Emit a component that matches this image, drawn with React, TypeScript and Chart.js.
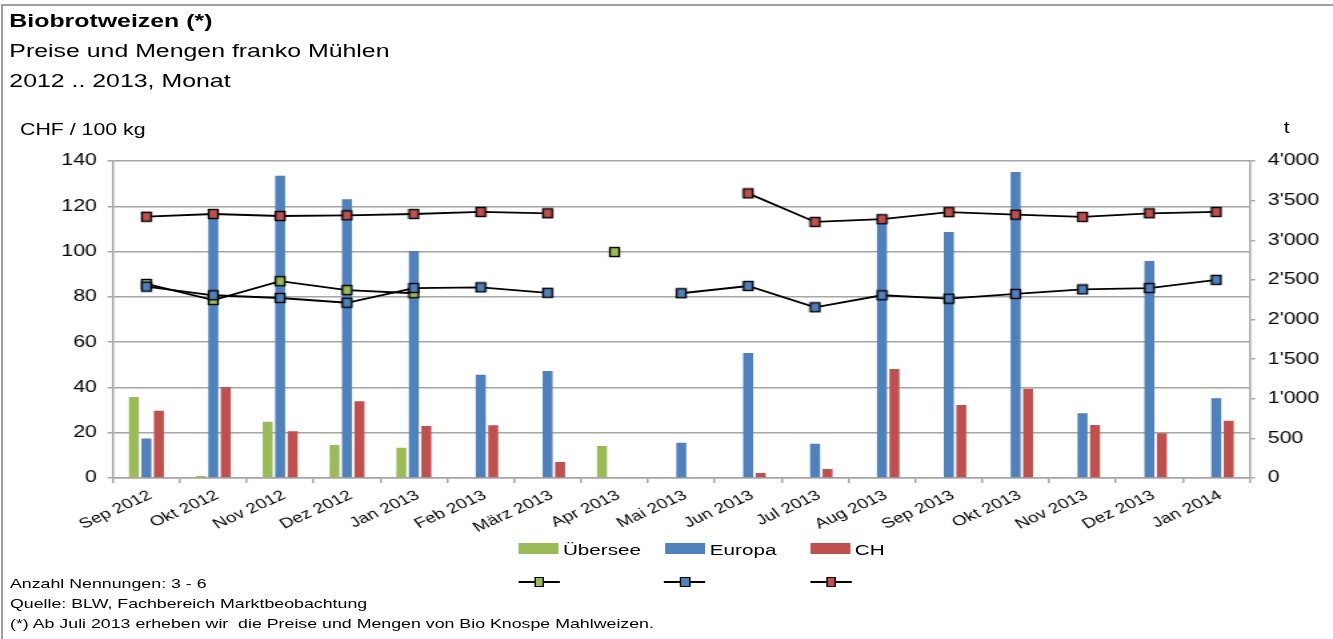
import React, { useEffect, useRef } from "react";
import { Chart, registerables } from "chart.js";

Chart.register(...registerables);

const months = [
  "Sep 2012", "Okt 2012", "Nov 2012", "Dez 2012", "Jan 2013", "Feb 2013",
  "März 2013", "Apr 2013", "Mai 2013", "Jun 2013", "Jul 2013", "Aug 2013",
  "Sep 2013", "Okt 2013", "Nov 2013", "Dez 2013", "Jan 2014",
];

// Mengen in t (rechte Achse)
const mengeUebersee = [1022, 25, 711, 417, 383, null, null, 403, null, null, null, null, null, null, null, null, null];
const mengeEuropa = [500, 3280, 3815, 3517, 2865, 1304, 1350, null, 446, 1577, 433, 3257, 3105, 3862, 817, 2738, 1006];
const mengeCH = [849, 1148, 589, 968, 657, 665, 202, null, null, 63, 114, 1375, 920, 1127, 669, 564, 723];

// Preise in CHF / 100 kg (linke Achse)
const preisUebersee = [85.7, 78.6, 86.9, 83.0, 81.6, null, null, 99.8, null, null, null, null, null, null, null, null, null];
const preisEuropa = [84.5, 80.7, 79.5, 77.4, 83.9, 84.2, 81.8, null, 81.6, 84.8, 75.4, 80.7, 79.2, 81.3, 83.3, 83.9, 87.5];
const preisCH = [115.4, 116.6, 115.7, 116.0, 116.6, 117.5, 116.9, null, null, 125.7, 113.1, 114.3, 117.4, 116.3, 115.3, 116.9, 117.5];

const leftTicks = [0, 20, 40, 60, 80, 100, 120, 140];
const rightTicks = [0, 500, 1000, 1500, 2000, 2500, 3000, 3500, 4000];

const GREEN = "#9BBB59";
const BLUE = "#4F81BD";
const RED = "#C0504D";
const GRID = "#a6a6a6";
const FONT = "'Liberation Sans', Arial, Helvetica, sans-serif";
const SX = 1.333;

function makeMarker(fill: string) {
  const c = document.createElement("canvas");
  c.width = 10;
  c.height = 12;
  const ctx = c.getContext("2d")!;
  ctx.fillStyle = fill;
  ctx.fillRect(1.5, 1.5, 7, 9);
  ctx.strokeStyle = "#000";
  ctx.lineWidth = 1.4;
  ctx.strokeRect(1.5, 1.5, 7, 9);
  return c;
}

function fmtThousands(v: number) {
  return String(v).replace(/\B(?=(\d{3})+(?!\d))/g, "'");
}

export default function App() {
  const ref = useRef<HTMLCanvasElement | null>(null);

  useEffect(() => {
    if (!ref.current) return;
    Chart.defaults.font.family = FONT;
    Chart.defaults.color = "#000";
    const lineCommon = {
      type: "line" as const,
      yAxisID: "y",
      borderColor: "#000",
      borderWidth: 1.8,
      tension: 0,
      spanGaps: false,
    };
    const chart = new Chart(ref.current, {
      data: {
        labels: months,
        datasets: [
          { ...lineCommon, label: "Preis CH", data: preisCH, pointStyle: makeMarker(RED) as any, order: 0 },
          { ...lineCommon, label: "Preis Europa", data: preisEuropa, pointStyle: makeMarker(BLUE) as any, order: 1 },
          { ...lineCommon, label: "Preis Übersee", data: preisUebersee, pointStyle: makeMarker(GREEN) as any, order: 2 },
          { type: "bar", label: "Übersee", data: mengeUebersee, backgroundColor: GREEN, yAxisID: "y1", order: 5, categoryPercentage: 0.56, barPercentage: 0.8 },
          { type: "bar", label: "Europa", data: mengeEuropa, backgroundColor: BLUE, yAxisID: "y1", order: 5, categoryPercentage: 0.56, barPercentage: 0.8 },
          { type: "bar", label: "CH", data: mengeCH, backgroundColor: RED, yAxisID: "y1", order: 5, categoryPercentage: 0.56, barPercentage: 0.8 },
        ] as any,
      },
      options: {
        responsive: false,
        animation: false,
        devicePixelRatio: 1,
        layout: { padding: { top: 161, left: 0, right: 0, bottom: 0 } },
        plugins: { legend: { display: false }, tooltip: { enabled: false } },
        scales: {
          x: {
            offset: true,
            grid: { drawOnChartArea: false, drawTicks: true, tickLength: 5, color: GRID, lineWidth: 1.5, offset: true },
            border: { display: true, color: GRID, width: 1.5 },
            ticks: {
              autoSkip: false,
              minRotation: 31,
              maxRotation: 31,
              padding: 4,
              labelOffset: 3,
              font: { size: 14.2, family: FONT },
              color: "#000",
            },
            afterFit: (s: any) => { s.height = 62; },
          },
          y: {
            position: "left",
            min: 0,
            max: 140,
            afterBuildTicks: (s: any) => { s.ticks = leftTicks.map((v) => ({ value: v })); },
            grid: { color: GRID, lineWidth: 1.5, drawTicks: true, tickLength: 4 },
            border: { display: true, color: GRID, width: 1.5 },
            ticks: { padding: 8, font: { size: 16, family: FONT }, color: "#000" },
            afterFit: (s: any) => { s.width = 84.75; },
          },
          y1: {
            position: "right",
            min: 0,
            max: 4000,
            afterBuildTicks: (s: any) => { s.ticks = rightTicks.map((v) => ({ value: v })); },
            grid: { drawOnChartArea: false, color: GRID, lineWidth: 1.5, drawTicks: true, tickLength: 4 },
            border: { display: true, color: GRID, width: 1.5 },
            ticks: {
              padding: 9.5,
              font: { size: 16, family: FONT },
              color: "#000",
              callback: (v: any) => fmtThousands(Number(v)),
            },
            afterFit: (s: any) => { s.width = 62.5; },
          },
        },
      } as any,
    });
    return () => chart.destroy();
  }, []);

  const legendBars = [
    { label: "Übersee", color: GREEN, box: 389.3, text: 422.3 },
    { label: "Europa", color: BLUE, box: 498.8, text: 532.5 },
    { label: "CH", color: RED, box: 608.3, text: 641.3 },
  ];

  return (
    <div style={{ position: "fixed", left: 0, top: 0, width: 1333, height: 639, background: "#fff", overflow: "hidden" }}>
      <div
        style={{
          position: "absolute", left: 1, top: 4, width: 1400, height: 700,
          borderTop: "2px solid #a0a0a0", borderLeft: "2px solid #a0a0a0",
        }}
      />
      <div
        style={{
          position: "absolute", left: 0, top: 0, width: 1000, height: 639,
          transform: `scaleX(${SX})`, transformOrigin: "0 0", fontFamily: FONT, color: "#000",
        }}
      >
        <canvas
          ref={ref}
          width={1000}
          height={540}
          style={{ position: "absolute", left: 0, top: 0, width: 1000, height: 540 }}
        />
        <div style={{ position: "absolute", left: 7, top: 6, fontSize: 18.67, lineHeight: "30px", whiteSpace: "nowrap" }}>
          <div style={{ fontWeight: "bold" }}>Biobrotweizen (*)</div>
          <div>Preise und Mengen franko Mühlen</div>
          <div>2012 .. 2013, Monat</div>
        </div>
        <div style={{ position: "absolute", left: 15, top: 121.5, fontSize: 16, lineHeight: "16px", whiteSpace: "nowrap" }}>
          CHF / 100 kg
        </div>
        <div style={{ position: "absolute", left: 963, top: 120, fontSize: 16, lineHeight: "16px" }}>t</div>

        {legendBars.map((l) => (
          <React.Fragment key={l.label}>
            <div style={{ position: "absolute", left: l.box, top: 543, width: 30, height: 11, background: l.color }} />
            <div style={{ position: "absolute", left: l.text, top: 541.6, fontSize: 15.5, lineHeight: "16px", whiteSpace: "nowrap" }}>
              {l.label}
            </div>
            <div style={{ position: "absolute", left: l.box - 0.5, top: 581.2, width: 31, height: 1.7, background: "#000" }} />
            <div
              style={{
                position: "absolute", left: l.box + 11.3, top: 577, width: 7.5, height: 10,
                boxSizing: "border-box", background: l.color, border: "1.3px solid #000",
              }}
            />
          </React.Fragment>
        ))}

        <div style={{ position: "absolute", left: 7.5, top: 574.4, fontSize: 13.33, lineHeight: "20px", whiteSpace: "pre" }}>
          <div>Anzahl Nennungen: 3 - 6</div>
          <div>Quelle: BLW, Fachbereich Marktbeobachtung</div>
          <div>(*) Ab Juli 2013 erheben wir  die Preise und Mengen von Bio Knospe Mahlweizen.</div>
        </div>
      </div>
    </div>
  );
}
